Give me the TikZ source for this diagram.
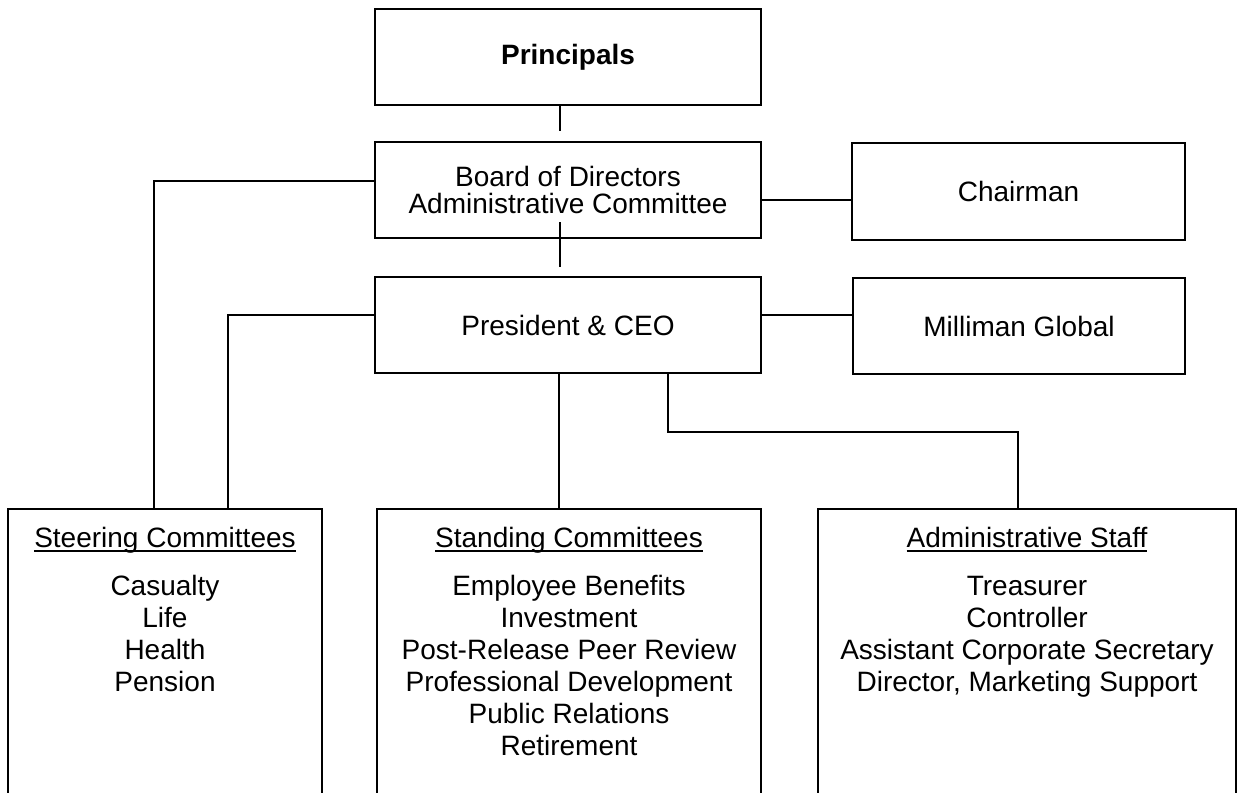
\documentclass[tikz,border=0pt]{standalone}
\usepackage{fontspec}
\setmainfont{Liberation Sans}
\newcommand{\ulbar}[1]{\setbox0\hbox{#1}\rlap{\rule[-4.5pt]{\wd0}{1.6pt}}\box0}
\begin{document}
\begin{tikzpicture}[x=1pt,y=-1pt,
  box/.style={draw, line width=2.2pt, inner sep=0pt, align=center, font=\fontsize{28}{32}\selectfont},
  listtext/.style={inner sep=0pt, align=center, anchor=north, font=\fontsize{28}{32}\selectfont},
  wire/.style={line width=2pt}]
\useasboundingbox (0,0) rectangle (1238,792);
\clip (0,0) rectangle (1238,792);
% boxes
\node[box, minimum width=386, minimum height=96] (prin) at (568,57) {\textbf{Principals}};
\node[box, minimum width=386, minimum height=96, font=\fontsize{28}{27}\selectfont] (board) at (568,190) {Board of Directors\\Administrative Committee};
\node[box, minimum width=333, minimum height=97] (chair) at (1018.5,191.5) {Chairman};
\node[box, minimum width=386, minimum height=96] (pres) at (568,325) {President \& CEO};
\node[box, minimum width=332, minimum height=96] (mg) at (1019,326) {Milliman Global};
\node[box, minimum width=314, minimum height=320, anchor=north] (steer) at (165,508) {};
\node[box, minimum width=384, minimum height=320, anchor=north] (stand) at (569,508) {};
\node[box, minimum width=418, minimum height=320, anchor=north] (admin) at (1027,508) {};
% box contents
\node[listtext] (steertxt) at (165,526.6) {\ulbar{Steering Committees}\\[16pt]Casualty\\Life\\Health\\Pension};
\node[listtext] (standtxt) at (569,526.6) {\ulbar{Standing Committees}\\[16pt]Employee Benefits\\Investment\\Post-Release Peer Review\\Professional Development\\Public Relations\\Retirement};
\node[listtext] (admintxt) at (1027,526.6) {\ulbar{Administrative Staff}\\[16pt]Treasurer\\Controller\\Assistant Corporate Secretary\\Director, Marketing Support};
% connectors
\coordinate (p1) at (560,131);
\draw[wire] (prin.south -| p1) -- (p1);
\coordinate (b1) at (560,222);
\coordinate (b2) at (560,267);
\draw[wire] (b1) -- (b2);
\coordinate (sj1) at (154,181);
\draw[wire] (sj1 -| board.west) -- (sj1) -- (sj1 |- steer.north);
\coordinate (sj2) at (228,315);
\draw[wire] (sj2 -| pres.west) -- (sj2) -- (sj2 |- steer.north);
\coordinate (cj) at (800,200);
\draw[wire] (cj -| board.east) -- (cj -| chair.west);
\coordinate (mj) at (800,315);
\draw[wire] (mj -| pres.east) -- (mj -| mg.west);
\coordinate (st) at (559,400);
\draw[wire] (st |- pres.south) -- (st |- stand.north);
\coordinate (aj1) at (668,432);
\coordinate (aj2) at (1018,432);
\draw[wire] (aj1 |- pres.south) -- (aj1) -- (aj2) -- (aj2 |- admin.north);
\end{tikzpicture}
\end{document}
